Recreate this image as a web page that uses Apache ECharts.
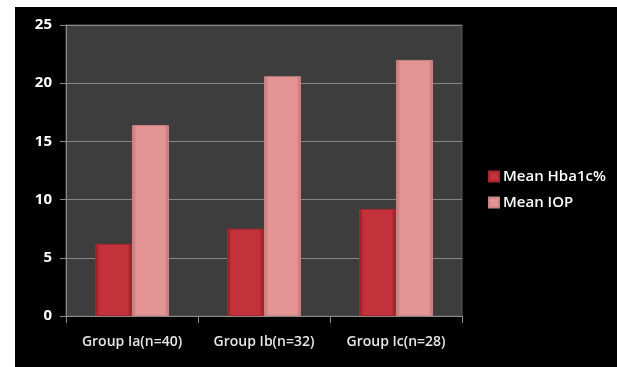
<!DOCTYPE html>
<html>
<head>
<meta charset="utf-8">
<script src="https://cdn.jsdelivr.net/npm/echarts@6/dist/echarts.min.js"></script>
<style>
  html, body { margin: 0; padding: 0; background: #fff; }
  #chart { position: absolute; left: 15px; top: 7px; width: 602px; height: 360px; background: #000; }
</style>
</head>
<body>
<div id="chart"></div>
<script>
const categories = ["Group Ia(n=40)", "Group Ib(n=32)", "Group Ic(n=28)"];
const hba1c = [6.2, 7.5, 9.2];
const iop = [16.4, 20.6, 22.0];
const yTicks = { min: 0, max: 25, interval: 5 };

const font = "'Open Sans', 'DejaVu Sans', sans-serif";

function barFill(edge, mid) {
  return new echarts.graphic.LinearGradient(0, 0, 1, 0, [
    { offset: 0, color: edge },
    { offset: 0.12, color: mid },
    { offset: 0.88, color: mid },
    { offset: 1, color: edge },
  ]);
}

const chart = echarts.init(document.getElementById("chart"));
chart.setOption({
  backgroundColor: "#000",
  animation: false,
  textStyle: { fontFamily: font },
  grid: {
    left: 51,
    right: 155,
    top: 18,
    bottom: 51,
    show: true,
    backgroundColor: "#3d3d3d",
    borderColor: "#5a5a5a",
    borderWidth: 1,
  },
  legend: {
    orient: "vertical",
    left: 468,
    top: 157,
    itemWidth: 10,
    itemHeight: 10,
    itemGap: 11,
    icon: "rect",
    textStyle: { color: "#fff", fontSize: 15, fontWeight: 600, fontFamily: font, padding: [0, 0, 0, -1] },
  },
  xAxis: {
    type: "category",
    data: categories,
    axisLine: { show: true, lineStyle: { color: "#8a8a8a" } },
    axisTick: { show: true, length: 7, lineStyle: { color: "#8a8a8a" } },
    axisLabel: { color: "#e6e6e6", fontSize: 14, fontWeight: 600, margin: 19, fontFamily: font },
  },
  yAxis: {
    type: "value",
    min: yTicks.min,
    max: yTicks.max,
    interval: yTicks.interval,
    axisLine: { show: true, lineStyle: { color: "#8a8a8a" } },
    axisTick: { show: true, length: 6, inside: false, lineStyle: { color: "#8a8a8a" } },
    axisLabel: { color: "#fff", fontSize: 15, fontWeight: 700, margin: 14, fontFamily: font },
    splitLine: { show: true, lineStyle: { color: "#858585", width: 1 } },
  },
  series: [
    {
      name: "Mean Hba1c%",
      type: "bar",
      data: hba1c,
      barGap: "0%",
      barCategoryGap: "44%",
      itemStyle: {
        color: barFill("#8e1a20", "#c3323a"),
        borderColor: "#a8262d",
        borderWidth: 1,
      },
    },
    {
      name: "Mean IOP",
      type: "bar",
      data: iop,
      barGap: "0%",
      barCategoryGap: "44%",
      itemStyle: {
        color: barFill("#b87373", "#e59495"),
        borderColor: "#c98585",
        borderWidth: 1,
      },
    },
  ],
});
</script>
</body>
</html>
